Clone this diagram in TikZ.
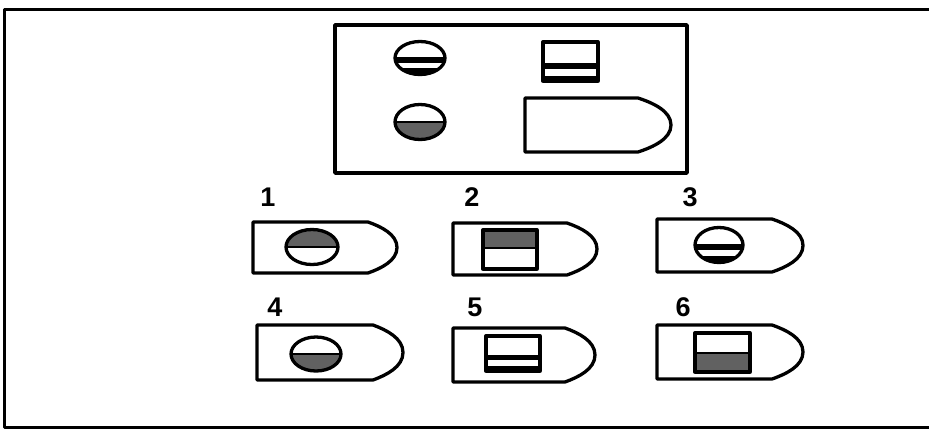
\documentclass[tikz,border=0pt]{standalone}
\usepackage{fontspec}
\setmainfont{Liberation Sans}
\newcommand\myboat[5]{% left top right bottom curvestart
  \draw[outline] (#1,#2) -- (#5,#2)
    .. controls ({#5+0.45*(#3-#5)},{#2+0.09*(#4-#2)}) and (#3,{#2+0.24*(#4-#2)}) .. (#3,{0.5*(#2+#4)})
    .. controls (#3,{#4-0.24*(#4-#2)}) and ({#5+0.45*(#3-#5)},{#4-0.09*(#4-#2)}) .. (#5,#4)
    -- (#1,#4) -- cycle;}
\newcommand\stripeell[4]{% cx cy rx ry
  \begin{scope}
    \clip (#1,#2) ellipse [x radius=#3, y radius=#4];
    \fill ({#1-#3},{#2+0.62*#4}) rectangle ({#1+#3},{#2+#4});
    \fill ({#1-#3},{#2-0.08*#4}) rectangle ({#1+#3},{#2+0.3*#4});
  \end{scope}
  \draw[outline] (#1,#2) ellipse [x radius=#3, y radius=#4];}
\newcommand\halfell[5]{% cx cy rx ry sign(-1 top, 1 bottom)
  \begin{scope}
    \clip (#1,#2) ellipse [x radius=#3, y radius=#4];
    \fill[shadefill] ({#1-#3},#2) rectangle ({#1+#3},{#2+#5*#4});
  \end{scope}
  \draw[divider] ({#1-#3},#2) -- ({#1+#3},#2);
  \draw[outline] (#1,#2) ellipse [x radius=#3, y radius=#4];}
\newcommand\striperect[4]{% x1 y1 x2 y2
  \fill ({#1},{#2+0.54*(#4-#2)}) rectangle ({#3},{#2+0.68*(#4-#2)});
  \fill ({#1},{#2+0.86*(#4-#2)}) rectangle ({#3},{#4});
  \draw[outline] (#1,#2) rectangle (#3,#4);}
\newcommand\halfrect[5]{% x1 y1 x2 y2 ysplit
  \draw[divider] (#1,#5) -- (#3,#5);
  \draw[outline] (#1,#2) rectangle (#3,#4);}
\begin{document}
\begin{tikzpicture}[x=1pt,y=-1pt,line join=round,
  outline/.style={draw=black,line width=3.3pt},
  divider/.style={draw=black,line width=1.6pt},
  shadefill/.style={fill=black!62},
  framebox/.style={draw=black,line width=3.6pt},
  num/.style={font=\bfseries\fontsize{27}{27}\selectfont,inner sep=0pt}]
\useasboundingbox (0,0) rectangle (929,429);
\fill[white] (0,0) rectangle (929,429);
% outer frame (open on the right)
\draw[line width=3pt] (929,9) -- (4,9) -- (4,427) -- (929,427);
% top box
\draw[framebox] (335,25) rectangle (687,173);
\stripeell{420}{58}{25}{16.5}
\halfell{420}{122}{25}{17.5}{1}
\striperect{543}{42}{598}{81}
\myboat{525}{98}{671}{152}{638}
% option 1
\node[num] (l1) at (268,197) {1};
\myboat{253}{222}{397}{273}{368}
\halfell{312}{247}{26}{17.5}{-1}
% option 2
\node[num] (l2) at (472,197) {2};
\myboat{453}{223}{597}{275}{567}
\fill[shadefill] (483,230) rectangle (537,248);
\halfrect{483}{230}{537}{269}{248}
% option 3
\node[num] (l3) at (690,197) {3};
\myboat{657}{219}{803}{272}{772}
\stripeell{719}{245}{24}{17.5}
% option 4
\node[num] (l4) at (275,307) {4};
\myboat{257}{325}{403}{380}{373}
\halfell{316}{354}{25}{17}{1}
% option 5
\node[num] (l5) at (475,307) {5};
\myboat{453}{328}{595}{382}{565}
\striperect{486}{336}{540}{371}
% option 6
\node[num] (l6) at (683,307) {6};
\myboat{657}{325}{803}{379}{772}
\fill[shadefill] (695,353) rectangle (750,372);
\halfrect{695}{333}{750}{372}{353}
\end{tikzpicture}
\end{document}
